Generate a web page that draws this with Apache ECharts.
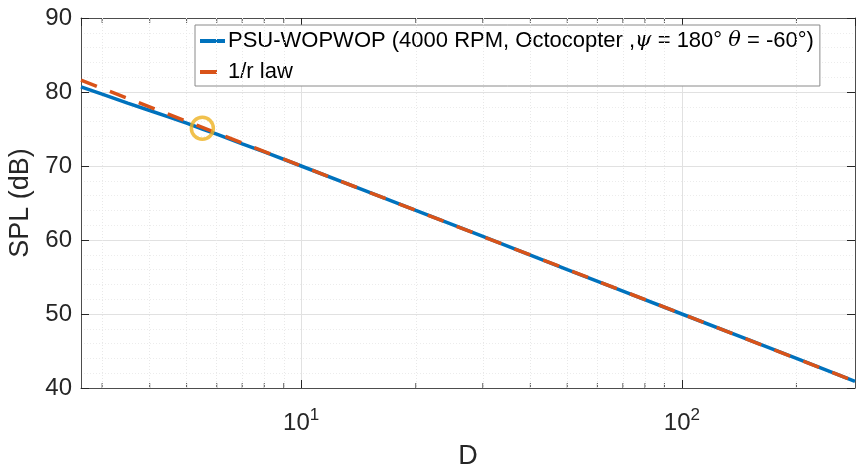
<!DOCTYPE html>
<html><head><meta charset="utf-8">
<script src="https://cdn.jsdelivr.net/npm/echarts@6/dist/echarts.min.js"></script>
<style>html,body{margin:0;padding:0;background:#fff}#c{width:856px;height:470px}</style>
</head><body><div id="c"></div>
<script>
// Data
const distD = [2.64, 3, 3.5, 4, 4.5, 5, 5.5, 6, 7, 8, 10, 15, 20, 30, 50, 70, 100, 150, 200, 285];
const splWopwop = [80.7, 79.7, 78.5, 77.5, 76.6, 75.8, 75.0, 74.3, 73.0, 71.9, 70.0, 66.5, 64.0, 60.5, 56.0, 53.1, 50.0, 46.5, 44.0, 40.9];
const lawD = [2.64, 285];
const lawSpl = [81.6, 40.9];
const markerPoint = [5.5, 75.1];
const xMinorTicks = [3, 4, 5, 6, 7, 8, 9, 20, 30, 40, 50, 60, 70, 80, 90, 200];
const xRange = [2.64, 285];
const yRange = [40, 90];
const seriesNames = ['PSU-WOPWOP (4000 RPM, Octocopter ,ψ = 180° θ = -60°)', '1/r law'];

const FONT = '"Liberation Sans", Arial, Helvetica, sans-serif';
const AX = '#4d4d4d';
const chart = echarts.init(document.getElementById('c'), null, {renderer: 'canvas'});

const supFmt = v => {
  const e = Math.round(Math.log10(v));
  if (Math.abs(Math.pow(10, e) - v) / v > 1e-6) return '';
  return '{b|10}{s|' + e + '}';
};

const option = {
  animation: false,
  textStyle: {fontFamily: FONT},
  grid: {left: 81, right: 1, top: 18, bottom: 82, containLabel: false, outerBoundsMode: 'none'},
  legend: {
    left: 195, top: 25, orient: 'vertical',
    backgroundColor: '#fff', borderColor: '#8a8a8a', borderWidth: 1,
    padding: [5, 6, 3, 3], itemGap: 9, itemWidth: 25, itemHeight: 14,
    itemStyle: {opacity: 0},
    lineStyle: {width: 4},
    textStyle: {
      fontFamily: FONT, fontSize: 22, color: '#000', padding: [0, 0, 0, -2],
      rich: {
        a: {fontFamily: FONT, fontSize: 22, lineHeight: 24, color: '#000'},
        g: {fontFamily: '"DejaVu Serif", "Liberation Serif", serif', fontStyle: 'italic', fontSize: 21, lineHeight: 24, color: '#000'}
      }
    },
    formatter: name => name === seriesNames[0]
      ? '{a|PSU-WOPWOP (4000 RPM, Octocopter ,}{g|ψ}{a| = 180° }{g|θ}{a| = -60°)}'
      : '{a|' + name + '}',
    data: seriesNames
  },
  xAxis: [{
    type: 'log', logBase: 10, min: xRange[0], max: xRange[1], position: 'bottom',
    name: 'D', nameLocation: 'middle', nameGap: 55,
    nameTextStyle: {fontFamily: FONT, fontSize: 27, color: '#262626'},
    axisLine: {show: true, onZero: false, lineStyle: {color: AX, width: 1}},
    axisTick: {show: true, inside: true, length: 8, lineStyle: {color: '#262626'}},
    axisLabel: {
      showMinLabel: false, showMaxLabel: false, margin: 19, formatter: supFmt,
      rich: {
        b: {fontFamily: FONT, fontSize: 24, color: '#262626'},
        s: {fontFamily: FONT, fontSize: 17, color: '#262626', padding: [0, 0, 16, 0]}
      }
    },
    splitLine: {show: true, lineStyle: {color: '#e1e1e1', width: 1}}
  }, {
    type: 'log', logBase: 10, min: xRange[0], max: xRange[1], position: 'top',
    axisLine: {show: true, onZero: false, lineStyle: {color: AX, width: 1}},
    axisTick: {show: true, inside: true, length: 8, lineStyle: {color: '#262626'}},
    axisLabel: {show: false}, splitLine: {show: false}
  }],
  yAxis: [{
    type: 'value', min: yRange[0], max: yRange[1], interval: 10, position: 'left',
    name: 'SPL (dB)', nameLocation: 'middle', nameGap: 41, nameRotate: 90,
    nameTextStyle: {fontFamily: FONT, fontSize: 27, color: '#262626'},
    axisLine: {show: true, lineStyle: {color: AX, width: 1}},
    axisTick: {show: true, inside: true, length: 8, lineStyle: {color: '#262626'}},
    axisLabel: {fontFamily: FONT, fontSize: 24, color: '#262626', margin: 9},
    splitLine: {show: true, lineStyle: {color: '#e1e1e1', width: 1}},
    minorTick: {show: false, splitNumber: 5},
    minorSplitLine: {show: true, lineStyle: {color: '#ececec', type: [1, 2], width: 1}}
  }, {
    type: 'value', min: yRange[0], max: yRange[1], interval: 10, position: 'right',
    axisLine: {show: true, lineStyle: {color: AX, width: 1}},
    axisTick: {show: true, inside: true, length: 8, lineStyle: {color: '#262626'}},
    axisLabel: {show: false}, splitLine: {show: false}
  }],
  series: [
    {
      type: 'line', name: '_grid', silent: true, z: 1, data: [], symbol: 'none',
      markLine: {
        silent: true, symbol: 'none', label: {show: false}, animation: false,
        lineStyle: {color: '#e8e8e8', type: [1, 2], width: 1},
        data: xMinorTicks.map(v => ({xAxis: v}))
      }
    },
    {
      type: 'scatter', name: '_ticksB', silent: true, z: 3, symbol: 'rect', symbolSize: [1, 5],
      symbolOffset: [0, -2.5], itemStyle: {color: '#262626'},
      data: xMinorTicks.map(v => [v, yRange[0]])
    },
    {
      type: 'scatter', name: '_ticksT', silent: true, z: 3, symbol: 'rect', symbolSize: [1, 5],
      symbolOffset: [0, 2.5], itemStyle: {color: '#262626'},
      data: xMinorTicks.map(v => [v, yRange[1]])
    },
    {
      type: 'line', name: seriesNames[0], z: 5, symbol: 'none', showSymbol: false,
      lineStyle: {color: '#0072BD', width: 3.5}, itemStyle: {color: '#0072BD'},
      data: distD.map((d, i) => [d, splWopwop[i]])
    },
    {
      type: 'line', name: seriesNames[1], z: 6, symbol: 'none', showSymbol: false,
      lineStyle: {color: '#D95319', width: 3.5, type: [17, 14]}, itemStyle: {color: '#D95319'},
      data: lawD.map((d, i) => [d, lawSpl[i]])
    },
    {
      type: 'scatter', name: '_marker', z: 7, symbol: 'circle', symbolSize: 22,
      itemStyle: {color: 'rgba(0,0,0,0)', borderColor: '#EDB120', borderWidth: 3.5},
      data: [markerPoint]
    }
  ]
};
chart.setOption(option);
</script></body></html>
